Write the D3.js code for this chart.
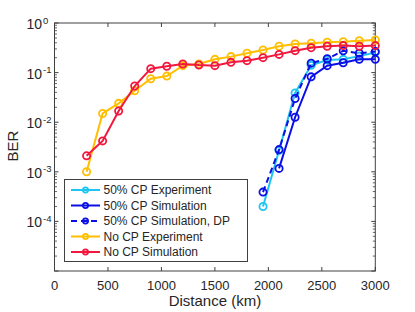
<!DOCTYPE html>
<html><head><meta charset="utf-8">
<script src="https://cdn.jsdelivr.net/npm/d3@7"></script>
<style>
body{margin:0;background:#fff;}
text{font-family:"Liberation Sans",Arial,sans-serif;fill:#262626;}
</style></head>
<body><svg id="c" width="415" height="312"></svg>
<script>
const xTicks = [0, 500, 1000, 1500, 2000, 2500, 3000];
const yExps = [0, -1, -2, -3, -4];

const cpExpX = [1950, 2100, 2250, 2400, 2550, 2700, 2850, 3000];
const cpExpY = [2e-4, 2.7e-3, 0.039, 0.14, 0.18, 0.185, 0.215, 0.255];

const cpSimX = [2100, 2250, 2400, 2550, 2700, 2850, 3000];
const cpSimY = [1.17e-3, 0.0126, 0.082, 0.138, 0.158, 0.185, 0.185];

const cpDpX = [1950, 2100, 2250, 2400, 2550, 2700, 2850, 3000];
const cpDpY = [3.9e-4, 2.8e-3, 0.030, 0.155, 0.19, 0.275, 0.245, 0.265];

const noCpX = [300, 450, 600, 750, 900, 1050, 1200, 1350, 1500, 1650, 1800, 1950, 2100, 2250, 2400, 2550, 2700, 2850, 3000];
const noCpExpY = [1e-3, 0.015, 0.024, 0.043, 0.075, 0.085, 0.138, 0.149, 0.185, 0.21, 0.245, 0.286, 0.339, 0.377, 0.39, 0.41, 0.42, 0.44, 0.454];
const noCpSimY = [2.1e-3, 4.2e-3, 0.0168, 0.0537, 0.12, 0.134, 0.149, 0.142, 0.138, 0.161, 0.174, 0.2, 0.233, 0.277, 0.318, 0.339, 0.35, 0.34, 0.35];

const seriesNames = ["50% CP Experiment", "50% CP Simulation", "50% CP Simulation, DP", "No CP Experiment", "No CP Simulation"];

const series = [
  {name: seriesNames[0], xs: cpExpX, ys: cpExpY, color: "#1ec5f2", dash: null},
  {name: seriesNames[1], xs: cpSimX, ys: cpSimY, color: "#0a0fe6", dash: null},
  {name: seriesNames[2], xs: cpDpX, ys: cpDpY, color: "#0a0fe6", dash: "6,4"},
  {name: seriesNames[3], xs: noCpX, ys: noCpExpY, color: "#ffbf00", dash: null},
  {name: seriesNames[4], xs: noCpX, ys: noCpSimY, color: "#f2173d", dash: null}
];

const L = 54.5, R = 375.3, T = 23, B = 271;
const x = d3.scaleLinear().domain([0, 3000]).range([L, R]);
const y = d3.scaleLog().domain([1e-5, 1]).range([B, T]);

const svg = d3.select("#c");
const axisColor = "#404040";

// box
svg.append("rect").attr("x", L).attr("y", T).attr("width", R - L).attr("height", B - T)
  .attr("fill", "none").attr("stroke", axisColor).attr("stroke-width", 1);

// x ticks (bottom & top, inward)
const g = svg.append("g");
xTicks.forEach(v => {
  const px = x(v);
  g.append("line").attr("x1", px).attr("x2", px).attr("y1", B).attr("y2", B - 4).attr("stroke", axisColor);
  g.append("line").attr("x1", px).attr("x2", px).attr("y1", T).attr("y2", T + 4).attr("stroke", axisColor);
  g.append("text").attr("x", px).attr("y", 290).attr("text-anchor", "middle")
    .attr("font-size", 13).text(v);
});

// y ticks with minor ticks
for (let e = -5; e <= 0; e++) {
  const base = Math.pow(10, e);
  const py = y(base);
  g.append("line").attr("x1", L).attr("x2", L + 4).attr("y1", py).attr("y2", py).attr("stroke", axisColor);
  g.append("line").attr("x1", R).attr("x2", R - 4).attr("y1", py).attr("y2", py).attr("stroke", axisColor);
  if (e < 0) {
    for (let m = 2; m <= 9; m++) {
      const my = y(base * m);
      g.append("line").attr("x1", L).attr("x2", L + 2.5).attr("y1", my).attr("y2", my).attr("stroke", axisColor).attr("stroke-width", 0.8);
      g.append("line").attr("x1", R).attr("x2", R - 2.5).attr("y1", my).attr("y2", my).attr("stroke", axisColor).attr("stroke-width", 0.8);
    }
  }
}
yExps.forEach(e => {
  const py = y(Math.pow(10, e));
  g.append("text").attr("x", 42).attr("y", py + 6).attr("text-anchor", "end").attr("font-size", 14).text("10");
  g.append("text").attr("x", 43).attr("y", py + 0.5).attr("text-anchor", "start").attr("font-size", 9.5).text(String(e).replace("-", "-"));
});

// axis labels
svg.append("text").attr("x", (L + R) / 2).attr("y", 306).attr("text-anchor", "middle").attr("font-size", 15).text("Distance (km)");
svg.append("text").attr("transform", "translate(18," + 146 + ") rotate(-90)").attr("text-anchor", "middle").attr("font-size", 15).text("BER");

// series
const line = d3.line().x(d => x(d[0])).y(d => y(d[1]));
const plot = svg.append("g");
series.forEach(s => {
  const pts = s.xs.map((v, i) => [v, s.ys[i]]);
  plot.append("path").datum(pts).attr("d", line).attr("fill", "none")
    .attr("stroke", s.color).attr("stroke-width", 2)
    .attr("stroke-dasharray", s.dash);
  plot.selectAll(null).data(pts).enter().append("circle")
    .attr("cx", d => x(d[0])).attr("cy", d => y(d[1])).attr("r", 3.6)
    .attr("fill", "none").attr("stroke", s.color).attr("stroke-width", 1.8);
});

// legend
const lg = svg.append("g");
lg.append("rect").attr("x", 64.5).attr("y", 179.5).attr("width", 183).attr("height", 82)
  .attr("fill", "#fff").attr("stroke", axisColor).attr("stroke-width", 1);
series.forEach((s, i) => {
  const ly = 190 + i * 15.5;
  lg.append("line").attr("x1", 71).attr("x2", 100).attr("y1", ly).attr("y2", ly)
    .attr("stroke", s.color).attr("stroke-width", 2).attr("stroke-dasharray", s.dash);
  lg.append("circle").attr("cx", 85.5).attr("cy", ly).attr("r", 2.6)
    .attr("fill", "none").attr("stroke", s.color).attr("stroke-width", 1.8);
  lg.append("text").attr("x", 103.5).attr("y", ly + 4.3).attr("font-size", 12).text(s.name);
});
</script></body></html>
